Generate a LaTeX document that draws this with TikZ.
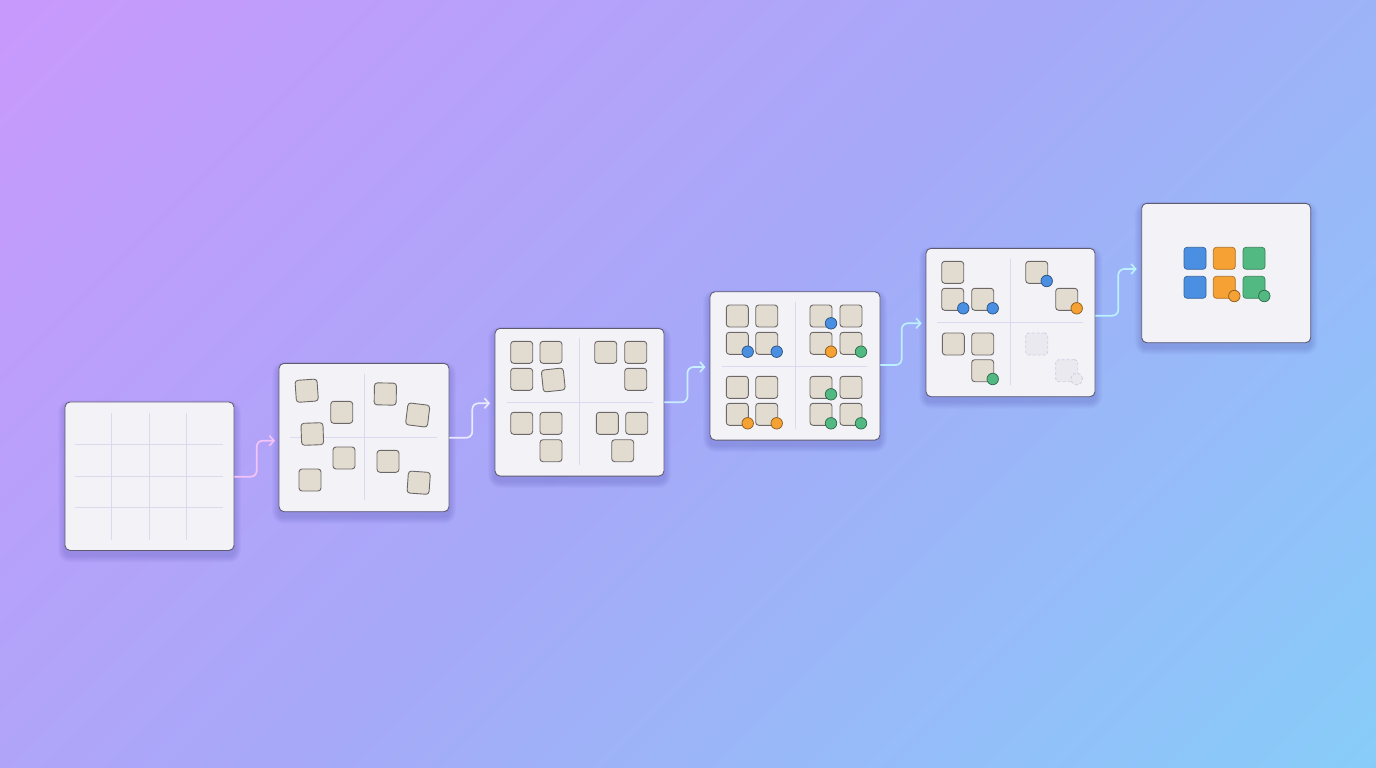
\documentclass[tikz,border=0pt]{standalone}
\usetikzlibrary{arrows.meta,calc}
\definecolor{bgA}{HTML}{CA98FC}
\definecolor{bgM}{HTML}{A6A9F8}
\definecolor{bgB}{HTML}{86CEF9}
\definecolor{panelfill}{HTML}{F3F3F7}
\definecolor{paneledge}{HTML}{5E5A72}
\definecolor{gridc}{HTML}{DCD8F0}
\definecolor{tilefill}{HTML}{E2DBCF}
\definecolor{tileedge}{HTML}{6C6868}
\definecolor{cblue}{HTML}{4A8FE2}
\definecolor{corange}{HTML}{F6A133}
\definecolor{cgreen}{HTML}{52B982}
\definecolor{ghostfill}{HTML}{EAE9F0}
\definecolor{ghostedge}{HTML}{D0CDE2}
\definecolor{conA}{HTML}{F4C4F8}
\definecolor{conB}{HTML}{EAEAFF}
\definecolor{conC}{HTML}{C8EEFF}
\definecolor{conD}{HTML}{BCEFFF}
\definecolor{conE}{HTML}{BCF2FF}
\pgfdeclareverticalshading{bgshade}{100bp}{color(0bp)=(bgB); color(13bp)=(bgB); color(50bp)=(bgM); color(87bp)=(bgA); color(100bp)=(bgA)}
\tikzset{
  panel/.style={rectangle, rounded corners=5pt, fill=panelfill, draw=paneledge, line width=0.9pt, inner sep=0pt},
  gridline/.style={draw=gridc, line width=0.9pt},
  tile/.style={rectangle, rounded corners=3pt, minimum size=22pt, inner sep=0pt, fill=tilefill, draw=tileedge, line width=0.9pt},
  ctile/.style={rectangle, rounded corners=3pt, minimum size=22pt, inner sep=0pt, fill=#1, draw=#1!70!black, line width=0.7pt},
  ghost/.style={rectangle, rounded corners=3pt, minimum size=22pt, inner sep=0pt, fill=ghostfill, draw=ghostedge, densely dashed, line width=0.8pt},
  dot/.style={circle, minimum size=11.5pt, inner sep=0pt, fill=#1, draw=#1!55!black, line width=0.7pt},
  ghostdot/.style={circle, minimum size=11.5pt, inner sep=0pt, fill=ghostfill, draw=ghostedge, densely dashed, line width=0.8pt},
  conn/.style={draw=#1, line width=1.7pt, rounded corners=6pt, -{Straight Barb[length=4.5pt,width=10pt,line width=1.6pt]}}
}
\newcommand\mkpanel[5]{%
  \foreach \s in {1,...,7}{%
    \fill[black!60!blue, opacity=0.018, rounded corners={5+\s}] ({#2-#4/2-\s},{#3-#5/2-\s+5}) rectangle ({#2+#4/2+\s},{#3+#5/2+\s+5});
  }
  \node[panel, minimum width=#4pt, minimum height=#5pt] (#1) at (#2,#3) {};
}
\begin{document}
\begin{tikzpicture}[x=1pt,y=-1pt]
\useasboundingbox (0,0) rectangle (1376,768);
\shade[shading=bgshade, shading angle=45] (0,0) rectangle (1376,768);

% panels
\mkpanel{p1}{149.5}{476.2}{169}{148.5}
\mkpanel{p2}{364}{437.5}{170}{148.4}
\mkpanel{p3}{579.5}{402.2}{169}{147.7}
\mkpanel{p4}{795}{365.9}{170}{148.3}
\mkpanel{p5}{1010.5}{322.5}{169}{148.4}
\mkpanel{p6}{1226.2}{273}{169}{139.4}

% panel 1 grid
\foreach \gx in {111.7,149,186.3} \draw[gridline] (\gx,412.7) -- (\gx,540);
\foreach \gy in {444.3,476,507.7} \draw[gridline] (75,\gy) -- (222.7,\gy);

% dividers
\draw[gridline] (364,374) -- (364,500);
\draw[gridline] (290,437.7) -- (437.3,437.7);
\draw[gridline] (579.3,338) -- (579.3,465);
\draw[gridline] (506.7,402.3) -- (652.7,402.3);
\draw[gridline] (795,302.3) -- (795,429);
\draw[gridline] (721.7,366) -- (867.3,366);
\draw[gridline] (1010.7,259) -- (1010.7,385);
\draw[gridline] (937.3,322.3) -- (1083.3,322.3);

% panel 2 tiles
\node[tile, rotate=4] (b1) at (306.7,390.7) {};
\node[tile] (b2) at (341.7,412.3) {};
\node[tile, rotate=2] (b3) at (312.3,434) {};
\node[tile] (b4) at (344,458) {};
\node[tile] (b5) at (310,480) {};
\node[tile, rotate=-1] (b6) at (385.3,394) {};
\node[tile, rotate=-7] (b7) at (417.7,415) {};
\node[tile] (b8) at (388,461.3) {};
\node[tile, rotate=-4] (b9) at (418.7,482.7) {};

% panel 3 tiles
\node[tile] (c1) at (521.7,352.3) {};
\node[tile] (c2) at (551,352.3) {};
\node[tile] (c3) at (521.7,379.3) {};
\node[tile, rotate=6] (c4) at (553.3,380) {};
\node[tile] (c5) at (605.7,352.3) {};
\node[tile] (c6) at (635.7,352.3) {};
\node[tile] (c7) at (635.7,379.3) {};
\node[tile] (c8) at (521.7,423.3) {};
\node[tile] (c9) at (551,423.3) {};
\node[tile] (c10) at (551,450.7) {};
\node[tile] (c11) at (607.3,423.3) {};
\node[tile] (c12) at (636.7,423.3) {};
\node[tile] (c13) at (622.7,450.7) {};

% panel 4 tiles
\node[tile] (d1) at (737.3,316) {};
\node[tile] (d2) at (766.7,316) {};
\node[tile] (d3) at (737.3,343.3) {};
\node[tile] (d4) at (766.7,343.3) {};
\node[tile] (d5) at (821,316) {};
\node[tile] (d6) at (851,316) {};
\node[tile] (d7) at (821,343.3) {};
\node[tile] (d8) at (851,343.3) {};
\node[tile] (d9) at (737.3,387.3) {};
\node[tile] (d10) at (766.7,387.3) {};
\node[tile] (d11) at (737.3,414.3) {};
\node[tile] (d12) at (766.7,414.3) {};
\node[tile] (d13) at (821,387.3) {};
\node[tile] (d14) at (851,387.3) {};
\node[tile] (d15) at (821,414.3) {};
\node[tile] (d16) at (851,414.3) {};
\node[dot=cblue] (dd1) at (747.7,351.7) {};
\node[dot=cblue] (dd2) at (776.7,351.7) {};
\node[dot=cblue] (dd3) at (831,323.3) {};
\node[dot=corange] (dd4) at (831,351.7) {};
\node[dot=cgreen] (dd5) at (861,351.7) {};
\node[dot=corange] (dd6) at (747.7,423.3) {};
\node[dot=corange] (dd7) at (776.7,423.3) {};
\node[dot=cgreen] (dd8) at (831,394.3) {};
\node[dot=cgreen] (dd9) at (831,423.3) {};
\node[dot=cgreen] (dd10) at (861,423.3) {};

% panel 5 tiles
\node[tile] (e1) at (952.7,272.3) {};
\node[tile] (e2) at (952.7,299.3) {};
\node[tile] (e3) at (982.7,299.3) {};
\node[tile] (e4) at (1036.7,272.3) {};
\node[tile] (e5) at (1066.7,299.3) {};
\node[tile] (e6) at (953.3,344) {};
\node[tile] (e7) at (982.7,344) {};
\node[tile] (e8) at (982.7,370.7) {};
\node[ghost] (e9) at (1036.7,344) {};
\node[ghost] (e10) at (1066.7,370.7) {};
\node[ghostdot] (ee6) at (1076.7,379) {};
\node[dot=cblue] (ee1) at (963.3,308.3) {};
\node[dot=cblue] (ee2) at (992.7,308.3) {};
\node[dot=cblue] (ee3) at (1046.7,281) {};
\node[dot=corange] (ee4) at (1076.7,308.3) {};
\node[dot=cgreen] (ee5) at (992.7,379) {};

% panel 6 tiles
\node[ctile=cblue] (f1) at (1195,258.3) {};
\node[ctile=corange] (f2) at (1224.3,258.3) {};
\node[ctile=cgreen] (f3) at (1254,258.3) {};
\node[ctile=cblue] (f4) at (1195,287.3) {};
\node[ctile=corange] (f5) at (1224.3,287.3) {};
\node[ctile=cgreen] (f6) at (1254,287.3) {};
\node[dot=corange] (ff1) at (1234.3,296) {};
\node[dot=cgreen] (ff2) at (1264.3,296) {};

% connectors
\coordinate (y1) at (0,476.7); \coordinate (v1) at (256.7,440.7); \coordinate (t1) at (275,440.7);
\coordinate (y2) at (0,437.7); \coordinate (v2) at (472.3,403.3); \coordinate (t2) at (490,403.3);
\coordinate (y3) at (0,402.3); \coordinate (v3) at (687.5,367);   \coordinate (t3) at (705.5,367);
\coordinate (y4) at (0,365);   \coordinate (v4) at (901.7,323.3); \coordinate (t4) at (921.7,323.3);
\coordinate (y5) at (0,315.7); \coordinate (v5) at (1118.3,269);  \coordinate (t5) at (1136.7,269);
\draw[conn=conA] (p1.east |- y1) -| (v1) -- (t1);
\draw[conn=conB] (p2.east |- y2) -| (v2) -- (t2);
\draw[conn=conC] (p3.east |- y3) -| (v3) -- (t3);
\draw[conn=conD] (p4.east |- y4) -| (v4) -- (t4);
\draw[conn=conE] (p5.east |- y5) -| (v5) -- (t5);
\end{tikzpicture}
\end{document}
